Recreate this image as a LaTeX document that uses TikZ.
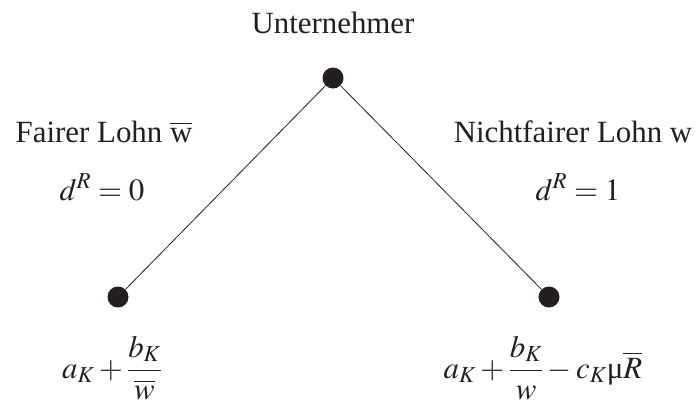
\documentclass[tikz,border=0pt]{standalone}
\usepackage{amsmath}
\usepackage{mathptmx}
\usepackage{fontspec}
\setmainfont{Liberation Serif}
\usepackage{tikz}
\usetikzlibrary{positioning}
\definecolor{inkdark}{HTML}{231F20}
\tikzset{
  knot/.style={circle, fill=inkdark, inner sep=0pt, minimum size=21bp},
  lbl/.style={inner sep=0pt, anchor=base, text=inkdark, font=\fontsize{31}{36}\selectfont},
  branch/.style={inkdark, line width=0.8bp}
}

\begin{document}
\begin{tikzpicture}[x=1bp,y=-1bp]
  \useasboundingbox (0,0) rectangle (698,406);

  % decision nodes
  \node[knot] (root) at (333,78) {};
  \node[knot] (fair) at (118,297) {};
  \node[knot] (unfair) at (549,297) {};

  \draw[branch] (root) -- (fair);
  \draw[branch] (root) -- (unfair);

  % labels
  \node[lbl] (unt) at (333,33) {Unternehmer};
  \node[lbl] (fairlohn) at (104,142) {Fairer Lohn $\overline{\text{w}}$};
  \node[lbl] (unfairlohn) at (573,142) {Nichtfairer Lohn w};
  \node[lbl] (dnull) at (102,200) {$d^{R}=0$};
  \node[lbl] (deins) at (578,200) {$d^{R}=1$};

  % payoffs
  \node[lbl, anchor=center] (payfair) at (112,368) {$a_{K}+\dfrac{b_{K}}{\overline{w}}$};
  \node[lbl, anchor=center] (payunfair) at (543,368) {$a_{K}+\dfrac{b_{K}}{w}-c_{K}\text{μ}\overline{R}$};
\end{tikzpicture}
\end{document}
